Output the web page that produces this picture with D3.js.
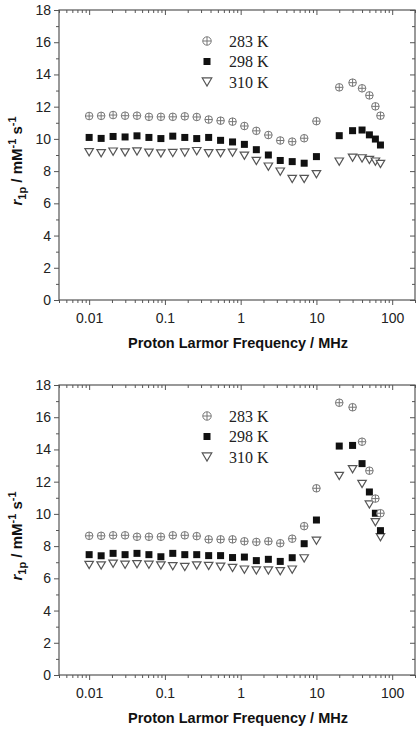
<!DOCTYPE html>
<html>
<head>
<meta charset="utf-8">
<script src="https://cdn.jsdelivr.net/npm/d3@7"></script>
<style>
  body { margin: 0; background: #fff; }
  svg { display: block; }
</style>
</head>
<body>
<div id="chart"></div>
<script>
// proton Larmor frequency (MHz) for every point
const freq = [0.01, 0.0144, 0.0207, 0.0298, 0.0428, 0.0615, 0.0885, 0.127, 0.183, 0.263,
  0.378, 0.543, 0.781, 1.12, 1.61, 2.32, 3.33, 4.79, 6.89, 10,
  20, 30, 40, 50, 60, 70]

// upper panel, r1p in mM-1 s-1
const top283 = [11.42, 11.43, 11.48, 11.44, 11.44, 11.37, 11.37, 11.37, 11.40, 11.36,
  11.20, 11.13, 11.07, 10.80, 10.50, 10.24, 9.90, 9.83, 10.04, 11.10,
  13.20, 13.49, 13.14, 12.70, 12.02, 11.44]
const top298 = [10.09, 10.03, 10.15, 10.12, 10.19, 10.09, 10.02, 10.17, 10.09, 10.02,
  10.09, 9.91, 9.81, 9.66, 9.33, 9.00, 8.66, 8.59, 8.49, 8.90,
  10.20, 10.51, 10.55, 10.25, 9.99, 9.62]
const top310 = [9.17, 9.11, 9.21, 9.16, 9.22, 9.14, 9.10, 9.12, 9.15, 9.24,
  9.11, 9.11, 9.14, 8.96, 8.63, 8.28, 7.97, 7.51, 7.51, 7.81,
  8.59, 8.83, 8.79, 8.69, 8.59, 8.44]

// lower panel
const bot283 = [8.64, 8.64, 8.67, 8.67, 8.58, 8.58, 8.58, 8.67, 8.67, 8.62,
  8.42, 8.42, 8.42, 8.30, 8.26, 8.30, 8.18, 8.46, 9.24, 11.59,
  16.90, 16.62, 14.48, 12.68, 10.95, 10.04]
const bot298 = [7.47, 7.40, 7.55, 7.47, 7.55, 7.47, 7.34, 7.55, 7.47, 7.47,
  7.41, 7.41, 7.29, 7.32, 7.10, 7.18, 7.05, 7.28, 8.15, 9.62,
  14.21, 14.25, 13.12, 11.36, 10.04, 8.96]
const bot310 = [6.83, 6.80, 6.91, 6.84, 6.88, 6.84, 6.80, 6.75, 6.70, 6.80,
  6.77, 6.72, 6.64, 6.54, 6.49, 6.49, 6.44, 6.54, 7.24, 8.33,
  12.35, 12.77, 11.86, 10.58, 9.48, 8.55]

const seriesNames = ['283 K', '298 K', '310 K']
const xMajor = [0.01, 0.1, 1, 10, 100]
const xMajorLabels = ['0.01', '0.1', '1', '10', '100']
const yMajor = [0, 2, 4, 6, 8, 10, 12, 14, 16, 18]
const yMinor = [1, 3, 5, 7, 9, 11, 13, 15, 17]

const panels = [
  {top: 10, series: [top283, top298, top310]},
  {top: 385, series: [bot283, bot298, bot310]}
]

const width = 420
const height = 735
const left = 59
const right = 415
const plotH = 290
const axisColor = '#555'

const svg = d3.select('#chart').append('svg')
  .attr('width', width)
  .attr('height', height)

const xs = d3.scaleLog().domain([0.004, 200]).range([left, right])

// minor ticks 2..9 per decade inside the domain
let xMinor = []
for (let p = -3; p <= 2; p++) {
  for (let m = 2; m <= 9; m++) {
    let v = m * Math.pow(10, p)
    if (v >= 0.004 && v <= 200) xMinor.push(v)
  }
}

// marker drawers
function drawCircle (g, r) {
  g.append('circle').attr('r', r)
    .attr('fill', '#fff').attr('stroke', '#777').attr('stroke-width', 1)
  g.append('path')
    .attr('d', `M${-r},0H${r}M0,${-r}V${r}`)
    .attr('stroke', '#777').attr('stroke-width', 1)
}
function drawSquare (g, s) {
  g.append('rect').attr('x', -s / 2).attr('y', -s / 2)
    .attr('width', s).attr('height', s)
    .attr('fill', '#111')
}
function drawTriangle (g, w) {
  let h = w * 0.85
  g.append('path')
    .attr('d', `M${-w / 2},${-h / 2}L${w / 2},${-h / 2}L0,${h / 2}Z`)
    .attr('fill', '#fff').attr('stroke', '#555').attr('stroke-width', 1.2)
}
const drawers = [
  (g) => drawCircle(g, 3.8),
  (g) => drawSquare(g, 7),
  (g) => drawTriangle(g, 8.5)
]
const legendDrawers = [
  (g) => drawCircle(g, 4.2),
  (g) => drawSquare(g, 7),
  (g) => drawTriangle(g, 9.5)
]

panels.forEach((panel) => {
  let ys = d3.scaleLinear().domain([0, 18]).range([panel.top + plotH, panel.top])
  let bottom = panel.top + plotH
  let g = svg.append('g')

  // bottom axis, ticks outward
  g.append('g')
    .attr('transform', `translate(0,${bottom})`)
    .call(d3.axisBottom(xs).tickValues(xMajor).tickSize(5).tickPadding(8)
      .tickFormat((d, i) => xMajorLabels[i]))
  g.append('g')
    .attr('transform', `translate(0,${bottom})`)
    .call(d3.axisBottom(xs).tickValues(xMinor).tickSize(3).tickFormat(''))
  // top mirror ticks, inward
  g.append('g')
    .attr('transform', `translate(0,${panel.top})`)
    .call(d3.axisBottom(xs).tickValues(xMajor).tickSize(5).tickFormat(''))
  g.append('g')
    .attr('transform', `translate(0,${panel.top})`)
    .call(d3.axisBottom(xs).tickValues(xMinor).tickSize(3).tickFormat(''))

  // left axis, ticks outward
  g.append('g')
    .attr('transform', `translate(${left},0)`)
    .call(d3.axisLeft(ys).tickValues(yMajor).tickSize(5).tickPadding(3))
  g.append('g')
    .attr('transform', `translate(${left},0)`)
    .call(d3.axisLeft(ys).tickValues(yMinor).tickSize(3).tickFormat(''))
  // right mirror ticks, inward
  g.append('g')
    .attr('transform', `translate(${right},0)`)
    .call(d3.axisLeft(ys).tickValues(yMajor).tickSize(5).tickFormat(''))
  g.append('g')
    .attr('transform', `translate(${right},0)`)
    .call(d3.axisLeft(ys).tickValues(yMinor).tickSize(3).tickFormat(''))

  g.selectAll('.domain').remove()
  g.selectAll('.tick line').attr('stroke', axisColor).attr('stroke-width', 1)
  g.selectAll('.tick text')
    .attr('fill', '#222')
    .style('font-family', 'Liberation Sans, Arial, sans-serif')
    .style('font-size', '14px')

  // frame
  g.append('rect')
    .attr('x', left).attr('y', panel.top)
    .attr('width', right - left).attr('height', plotH)
    .attr('fill', 'none')
    .attr('stroke', axisColor)
    .attr('stroke-width', 1.2)

  // points, high-temperature series first so the circles sit on top
  for (let s = panel.series.length - 1; s >= 0; s--) {
    panel.series[s].forEach((v, i) => {
      let pg = g.append('g')
        .attr('transform', `translate(${xs(freq[i])},${ys(v)})`)
      drawers[s](pg)
    })
  }

  // legend
  seriesNames.forEach((name, i) => {
    let ly = panel.top + 31 + i * 20.5
    let lg = g.append('g').attr('transform', `translate(207,${ly})`)
    legendDrawers[i](lg)
    g.append('text')
      .attr('x', 229)
      .attr('y', ly)
      .attr('dy', '0.36em')
      .style('font-family', 'Liberation Serif, Times New Roman, serif')
      .style('font-size', '16px')
      .attr('fill', '#222')
      .text(name)
  })

  // x label
  g.append('text')
    .attr('x', 238)
    .attr('y', bottom + 48)
    .style('text-anchor', 'middle')
    .style('font-family', 'Liberation Sans, Arial, sans-serif')
    .style('font-size', '14.5px')
    .style('font-weight', 'bold')
    .attr('fill', '#111')
    .text('Proton Larmor Frequency / MHz')

  // y label
  let yl = g.append('text')
    .attr('transform', `translate(22,${panel.top + plotH / 2 + 6}) rotate(-90)`)
    .style('text-anchor', 'middle')
    .style('font-family', 'Liberation Sans, Arial, sans-serif')
    .style('font-size', '15px')
    .style('font-weight', 'bold')
    .attr('fill', '#111')
  yl.append('tspan').style('font-style', 'italic').text('r')
  yl.append('tspan').attr('dy', 4).style('font-size', '11px').text('1p')
  yl.append('tspan').attr('dy', -4).text(' / mM')
  yl.append('tspan').attr('dy', -6).style('font-size', '11px').text('-1')
  yl.append('tspan').attr('dy', 6).text(' s')
  yl.append('tspan').attr('dy', -6).style('font-size', '11px').text('-1')
})
</script>
</body>
</html>
